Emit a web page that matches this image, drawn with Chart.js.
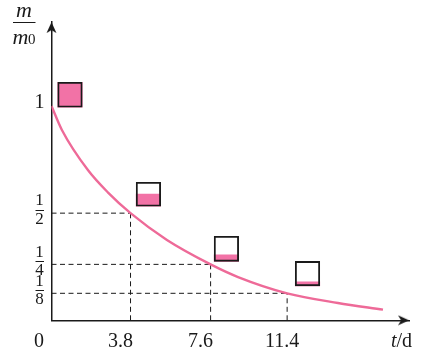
<!DOCTYPE html>
<html>
<head>
<meta charset="utf-8">
<style>html,body{margin:0;padding:0;background:#fff}canvas{display:block}</style>
<script src="https://cdn.jsdelivr.net/npm/chart.js@4"></script>
</head>
<body>
<canvas id="c" width="425" height="360"></canvas>
<script>
const curveX = [0, 0.5, 1.75, 2.72, 3.8, 5.55, 7.65, 8.97, 11.33, 13.77, 15.94];
const curveY = [1, 0.888, 0.701, 0.596, 0.5, 0.375, 0.261, 0.202, 0.126, 0.081, 0.05];
const xTickValues = [0, 3.8, 7.65, 11.33];
const xTickLabels = ['0 ', '3.8', '7.6', '  11.4'];
const yTickValues = [1, 0.5, 0.261, 0.126];
const yTickLabels = ['1', ['1', '2'], ['1', '4'], ['1', '8']];
const boxX = [0.889, 4.66, 8.41, 12.31];
const boxLow = [0.994, 0.532, 0.275, 0.161];
const boxHigh = [1.111, 0.644, 0.392, 0.275];
const boxFill = [1.111, 0.589, 0.305, 0.180];
const xMax = 17.19, yMax = 1.392;

const INK = '#1a1a1a', PINK = '#f272a6', CURVE = '#ee6a98';
const SERIF = '"Liberation Serif", serif';

function arrowImage() {
  const a = document.createElement('canvas');
  a.width = 11; a.height = 11;
  const g = a.getContext('2d');
  g.fillStyle = INK;
  g.beginPath();
  g.moveTo(5.5, 0); g.lineTo(10.5, 11); g.lineTo(5.5, 8); g.lineTo(0.5, 11);
  g.closePath(); g.fill();
  return a;
}
const arrow = arrowImage();

function dash(points) {
  return {
    type: 'line', data: points, borderColor: INK, borderWidth: 1,
    borderDash: [5, 3.5], pointRadius: 0, fill: false, tension: 0, order: 3
  };
}
const dashes = [];
[0, 1, 2].forEach(i => {
  const px = xTickValues[i + 1], py = yTickValues[i + 1];
  dashes.push(dash([{ x: 0, y: py }, { x: px, y: py }]));
  dashes.push(dash([{ x: px, y: 0 }, { x: px, y: py }]));
});

const textPlugin = {
  id: 'axisText',
  afterDraw(chart) {
    const g = chart.ctx;
    const ys = chart.scales.y;
    g.save();
    g.fillStyle = INK; g.strokeStyle = INK; g.lineWidth = 1;
    g.textBaseline = 'alphabetic';
    // y axis name: m over m0
    g.textAlign = 'left';
    g.font = 'italic 22px ' + SERIF;
    g.fillText('m', 16, 17);
    g.fillText('m', 12.5, 44);
    g.font = '15px ' + SERIF;
    g.fillText('0', 28, 44);
    g.beginPath(); g.moveTo(13, 22.5); g.lineTo(35.5, 22.5); g.stroke();
    // x axis name: t/d
    g.font = 'italic 20px ' + SERIF;
    g.fillText('t', 391, 346.5);
    g.font = '20px ' + SERIF;
    g.fillText('/d', 396.5, 346.5);
    // fraction bars
    yTickValues.slice(1).forEach(v => {
      const p = Math.round(ys.getPixelForValue(v) - 3) + 0.5;
      g.beginPath(); g.moveTo(35.5, p); g.lineTo(44, p); g.stroke();
    });
    g.restore();
  }
};

new Chart(document.getElementById('c'), {
  type: 'scatter',
  data: {
    datasets: [
      {
        type: 'line', label: 'm/m0',
        data: curveX.map((x, i) => ({ x, y: curveY[i] })),
        borderColor: CURVE, borderWidth: 2.4, pointRadius: 0,
        cubicInterpolationMode: 'monotone', fill: false, order: 1
      },
      ...dashes,
      {
        type: 'bar', data: boxX.map((x, i) => ({ x, y: [boxLow[i], boxHigh[i]] })),
        backgroundColor: 'rgba(0,0,0,0)', borderColor: INK, borderWidth: 1.2,
        borderSkipped: false, barThickness: 24.5, grouped: false, order: 4
      },
      {
        type: 'bar', data: boxX.map((x, i) => ({ x, y: [boxLow[i], boxFill[i]] })),
        backgroundColor: PINK, borderWidth: 0, barThickness: 24.5, grouped: false, order: 5
      },
      {
        type: 'scatter', data: [{ x: 0, y: 1.366 }], pointStyle: arrow,
        pointRadius: 5.5, rotation: 0, clip: false, order: 0
      },
      {
        type: 'scatter', data: [{ x: 16.93, y: 0 }], pointStyle: arrow,
        pointRadius: 5.5, rotation: 90, clip: false, order: 0
      }
    ]
  },
  options: {
    responsive: false, animation: false, devicePixelRatio: 1,
    layout: { autoPadding: false, padding: { top: 22, right: 16, left: 0, bottom: 0 } },
    plugins: { legend: { display: false }, tooltip: { enabled: false } },
    scales: {
      x: {
        type: 'linear', min: 0, max: xMax, offset: false,
        afterFit(s) { s.height = 39.7; s.paddingLeft = 0; s.paddingRight = 0; },
        afterBuildTicks(s) { s.ticks = xTickValues.map(value => ({ value })); },
        grid: { display: false, drawTicks: false },
        border: { display: true, color: INK, width: 1.5 },
        ticks: {
          autoSkip: false, maxRotation: 0, color: INK, padding: 9, labelOffset: -10,
          font: { family: SERIF, size: 20 },
          callback: v => xTickLabels[xTickValues.indexOf(v)]
        }
      },
      y: {
        type: 'linear', min: 0, max: yMax, offset: false,
        afterFit(s) { s.width = 51.5; s.paddingTop = 0; s.paddingBottom = 0; },
        afterBuildTicks(s) { s.ticks = yTickValues.map(value => ({ value })); },
        grid: { display: false, drawTicks: false },
        border: { display: true, color: INK, width: 1.5 },
        ticks: {
          autoSkip: false, color: INK, padding: 7, labelOffset: -3, crossAlign: 'center',
          font: c => (c.tick && c.tick.value === 1)
            ? { family: SERIF, size: 20 }
            : { family: SERIF, size: 17, lineHeight: 1.08 },
          callback: v => yTickLabels[yTickValues.indexOf(v)]
        }
      }
    }
  },
  plugins: [textPlugin]
});
</script>
</body>
</html>
